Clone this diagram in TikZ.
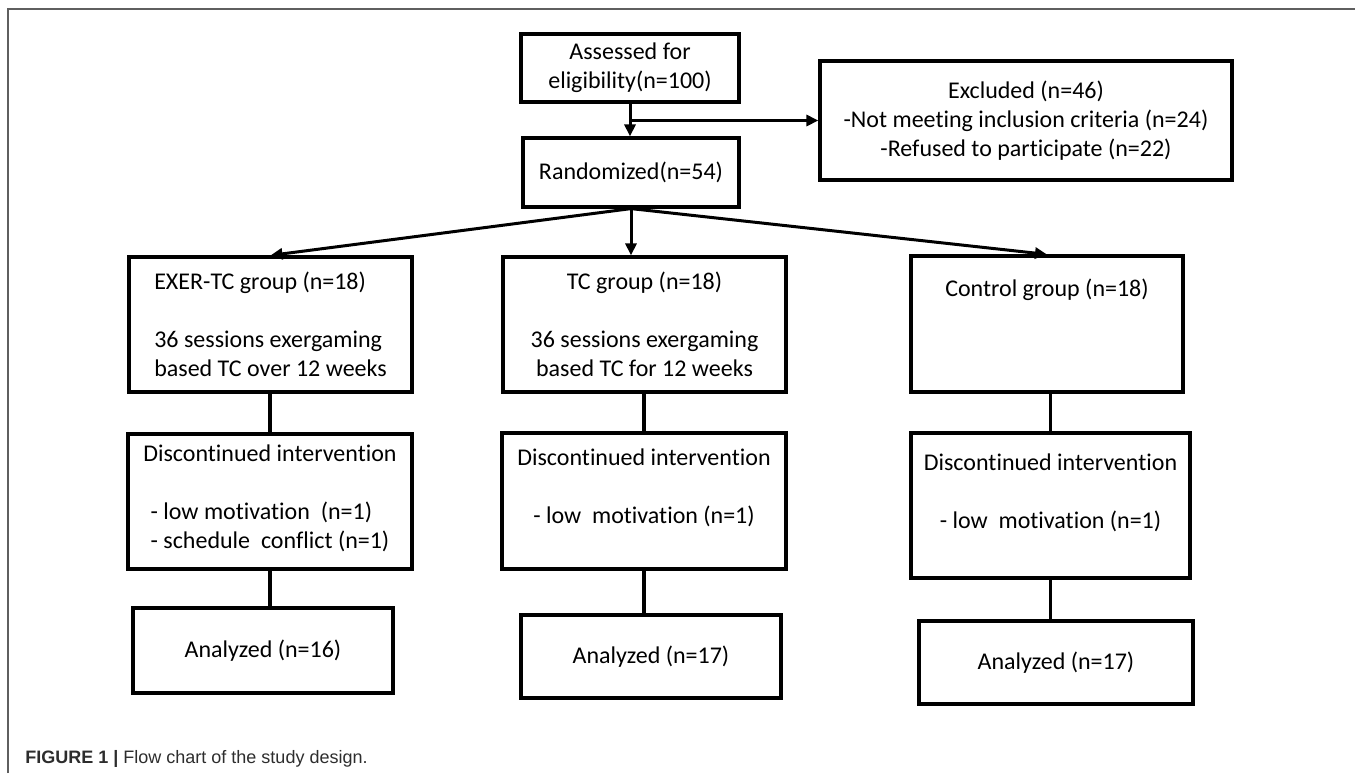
\documentclass[tikz,border=0pt]{standalone}
\usepackage{fontspec}
\setmainfont{Carlito}[Ligatures=NoCommon]
\newfontfamily\capfont{Liberation Sans}
\usetikzlibrary{arrows.meta}

\definecolor{framegray}{RGB}{95, 95, 95}
\definecolor{capgray}{RGB}{45, 45, 45}

\begin{document}
\begin{tikzpicture}[x=0.5pt, y=-0.5pt,
		box/.style={draw, line width=1.6pt, align=center, inner sep=0pt,
				font=\fontsize{12}{14.5}\selectfont},
		sz/.style 2 args={minimum width=#1*0.5pt, minimum height=#2*0.5pt},
		arr/.style={line width=1.5pt, -{Triangle[width=5.5pt, length=6pt]}},
		conn/.style={line width=1.6pt}]
			\useasboundingbox (0,0) rectangle (1355,773);

			% --- Frame and caption ---
			\draw[framegray, line width=0.7pt] (8,773) -- (8,9) -- (1355,9);
			\node[anchor=base west, inner sep=0pt, text=capgray,
				font=\capfont\fontsize{9}{11}\selectfont] (cap) at (25,763)
				{\textbf{FIGURE 1 |} Flow chart of the study design.};

			% --- Enrolment ---
			\node[box, sz={218}{68}] (assess) at (630,68) {Assessed for\\eligibility(n=100)};
			\node[box, sz={216}{69}] (rand) at (631,172.5) {Randomized(n=54)};
			\node[box, sz={412}{119}] (excl) at (1026,120.5)
				{Excluded (n=46)\\-Not meeting inclusion criteria (n=24)\\-Refused to participate (n=22)};
			\coordinate (split) at (assess.south |- excl.west);

			\draw[arr] (assess.south) -- (assess.south |- rand.north);
			\draw[arr] (split) -- (excl.west);

			% --- Allocation ---
			\node[box, align=left, sz={283}{135}] (exer) at (270.5,324.5)
				{EXER-TC group (n=18)\\[14.5pt]36 sessions exergaming\\based TC over 12 weeks};
			\node[box, sz={283}{135}] (tc) at (644.5,324.5)
				{TC group (n=18)\\[14.5pt]36 sessions exergaming\\based TC for 12 weeks};
			\node[box, sz={272}{136}] (ctrl) at (1047,324)
				{Control group (n=18)\\[21.5pt]\mbox{}};

			\draw[arr] (rand.south) -- (exer.north);
			\draw[arr] (rand.south) -- (rand.south |- tc.north);
			\draw[arr] (rand.south) -- (ctrl.north);

			% --- Follow-up ---
			\node[box, sz={284}{135}] (dis-exer) at (270,501.5)
				{Discontinued intervention\\[14.5pt]\begin{tabular}[t]{@{}l@{}}- low motivation\ \ (n=1)\\- schedule\ \ conflict (n=1)\end{tabular}};
			\node[box, sz={284}{136}] (dis-tc) at (644,501)
				{Discontinued intervention\\[14.5pt]- low\ \ motivation (n=1)\\\mbox{}};
			\node[box, sz={279}{145}] (dis-ctrl) at (1050.5,505.5)
				{Discontinued intervention\\[14.5pt]- low\ \ motivation (n=1)\\\mbox{}};

			% --- Analysis ---
			\node[box, sz={260}{85}] (ana-exer) at (263,650.5) {Analyzed (n=16)};
			\node[box, sz={260}{83}] (ana-tc) at (651,656.5) {Analyzed (n=17)};
			\node[box, sz={274}{83}] (ana-ctrl) at (1056,662.5) {Analyzed (n=17)};

			\foreach \g in {exer,tc,ctrl} {
					\draw[conn] (dis-\g.north) -- (dis-\g.north |- \g.south);
					\draw[conn] (dis-\g.south) -- (dis-\g.south |- ana-\g.north);
				}

		\end{tikzpicture}
\end{document}
